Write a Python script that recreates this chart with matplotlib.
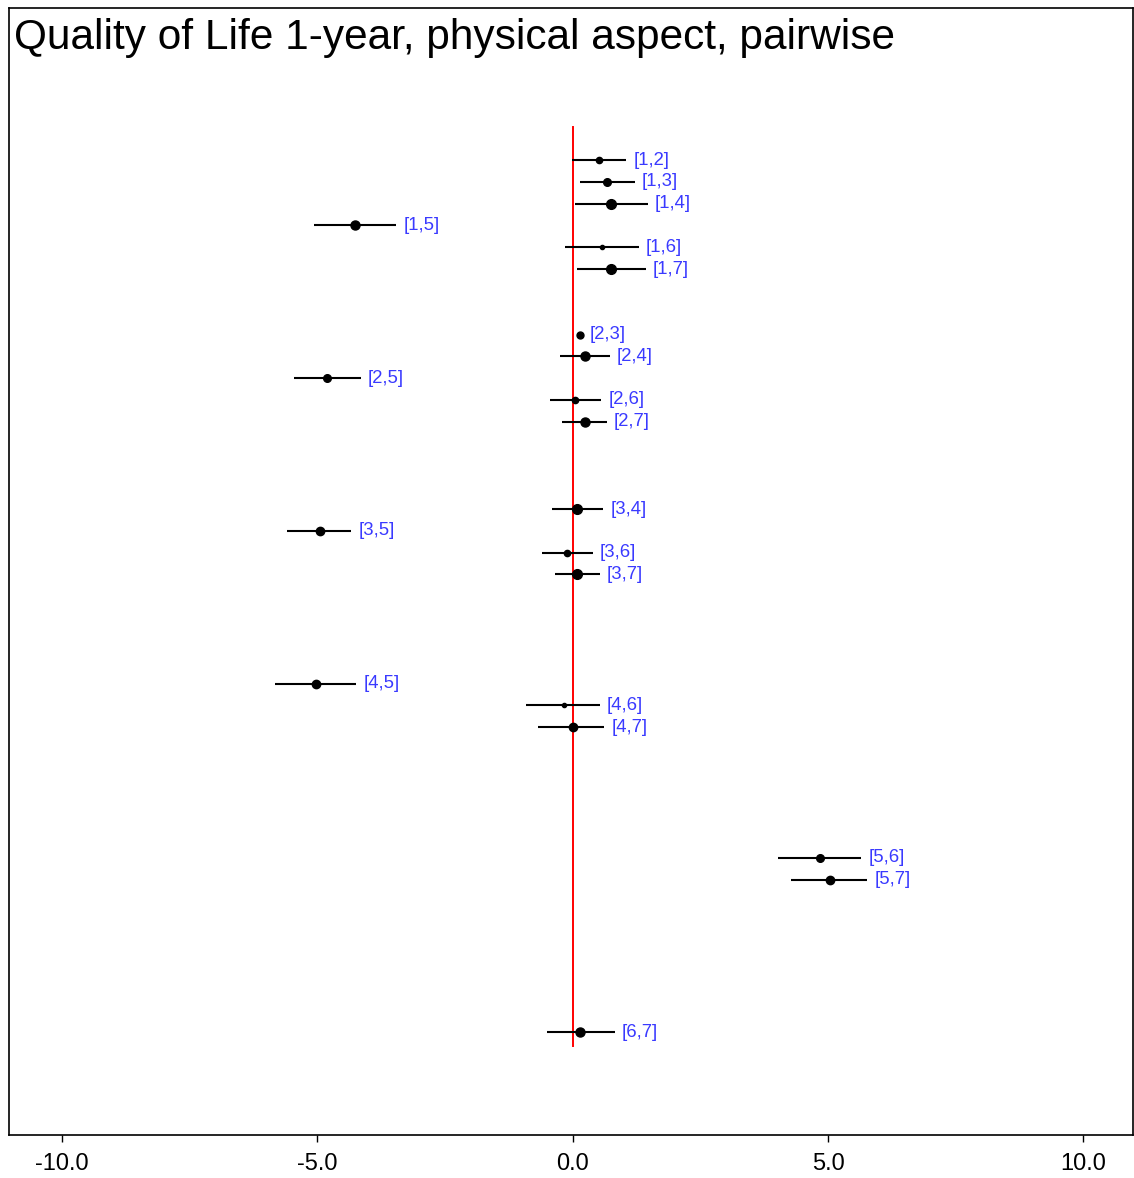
import matplotlib
matplotlib.use("Agg")
import matplotlib.pyplot as plt
import numpy as np

plt.rcParams['font.family'] = ['Liberation Sans', 'DejaVu Sans']

# pairwise comparisons (treatment i vs j)
first = [1, 1, 1, 1, 1, 1, 2, 2, 2, 2, 2, 3, 3, 3, 3, 4, 4, 4, 5, 5, 6]
second = [2, 3, 4, 5, 6, 7, 3, 4, 5, 6, 7, 4, 5, 6, 7, 5, 6, 7, 6, 7, 7]
estimate = [0.52, 0.67, 0.75, -4.25, 0.58, 0.75,
            0.15, 0.24, -4.80, 0.05, 0.24,
            0.09, -4.95, -0.11, 0.09,
            -5.03, -0.17, 0.00,
            4.85, 5.03,
            0.15]
lower = [-0.01, 0.15, 0.05, -5.07, -0.15, 0.09,
         0.10, -0.24, -5.46, -0.44, -0.20,
         -0.40, -5.58, -0.60, -0.34,
         -5.83, -0.91, -0.67,
         4.03, 4.27,
         -0.50]
upper = [1.05, 1.22, 1.47, -3.45, 1.30, 1.44,
         0.20, 0.73, -4.15, 0.56, 0.67,
         0.60, -4.33, 0.40, 0.54,
         -4.23, 0.54, 0.62,
         5.65, 5.77,
         0.83]
# relative weight of each comparison (drawn as dot size)
weight = [0.5, 0.7, 1.0, 0.9, 0.2, 1.0,
          0.6, 0.9, 0.7, 0.5, 0.9,
          1.0, 0.8, 0.5, 1.0,
          0.8, 0.2, 0.8,
          0.7, 0.8,
          0.9]
x_ticks = [-10.0, -5.0, 0.0, 5.0, 10.0]
title = "Quality of Life 1-year, physical aspect, pairwise"

W, H = 1134, 1178
fig = plt.figure(figsize=(W / 100, H / 100), dpi=100)
ax = fig.add_axes([9 / W, (H - 1135) / H, 1124 / W, (1135 - 8) / H])

pos = [8 * (i - 1) + (j - i - 1) for i, j in zip(first, second)]

ax.plot([0, 0], [-1.5, 40.6], color='red', lw=1.4, zorder=1)

for k in range(len(pos)):
    ax.plot([lower[k], upper[k]], [pos[k], pos[k]], color='black', lw=1.5, zorder=2,
            solid_capstyle='butt')
    ax.plot(estimate[k], pos[k], 'o', color='black', ms=2.0 + 5.0 * weight[k], zorder=3,
            mec='black')
    ax.annotate(f"[{first[k]},{second[k]}]", xy=(upper[k], pos[k]), xytext=(7, 0),
                textcoords='offset pixels', va='center', ha='left',
                color='#3a3aff', fontsize=13.3)

ax.set_xlim(-11.03, 10.97)
ax.set_ylim(44.7, -6.97)
ax.set_xticks(x_ticks)
ax.set_xticklabels([f"{t:.1f}" for t in x_ticks], fontsize=17)
ax.tick_params(axis='x', direction='out', length=5, width=1, pad=8)
ax.set_yticks([])
for s in ax.spines.values():
    s.set_linewidth(1.2)

fig.text(14 / W, 1 - 18 / H, title, ha='left', va='top', fontsize=30.5)

fig.savefig("out.png", dpi=100)
